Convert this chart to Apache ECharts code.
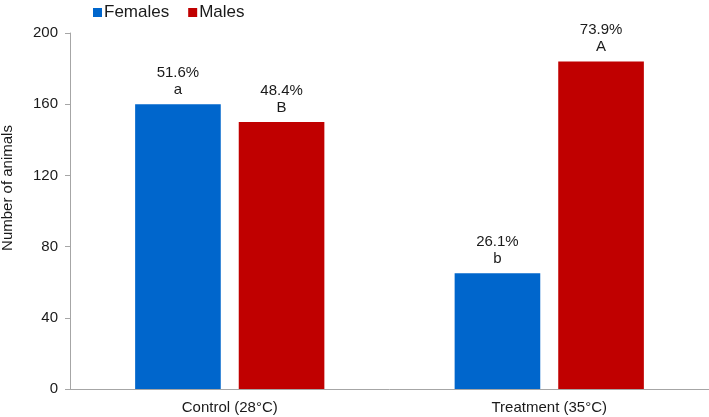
<!DOCTYPE html>
<html><head><meta charset="utf-8">
<script src="https://cdn.jsdelivr.net/npm/echarts@6/dist/echarts.min.js"></script>
<style>html,body{margin:0;padding:0;background:#fff}#c{width:709px;height:417px}</style>
</head><body><div id="c"></div>
<script>
const categories = ['Control (28°C)', 'Treatment (35°C)'];
const females = [160, 65];
const males = [150, 184];
const femaleLabels = ['51.6%\na', '26.1%\nb'];
const maleLabels = ['48.4%\nB', '73.9%\nA'];
const yTicks = [0, 40, 80, 120, 160, 200];
const yAxisTitle = 'Number of animals';

const font = 'Liberation Sans, Arial, sans-serif';
const chart = echarts.init(document.getElementById('c'));
const lbl = (arr) => ({
  show: true, position: 'top', distance: 6, color: '#1a1a1a', fontSize: 15,
  fontFamily: font, lineHeight: 17, align: 'center',
  formatter: p => arr[p.dataIndex]
});
chart.setOption({
  animation: false,
  textStyle: { fontFamily: font },
  legend: {
    left: 88, top: -1, icon: 'rect', itemWidth: 9, itemHeight: 9, itemGap: 19,
    textStyle: { fontSize: 17, color: '#1a1a1a', fontFamily: font, padding: [0, 0, 0, -3] },
    data: ['Females', 'Males']
  },
  grid: { left: 70, right: 0, top: 33, bottom: 28, outerBoundsMode: 'none', containLabel: false },
  graphic: [{
    type: 'text', x: 8, y: 188, rotation: Math.PI / 2,
    style: { text: yAxisTitle, fontSize: 15, fontFamily: font, fill: '#1a1a1a',
      align: 'center', verticalAlign: 'middle' }
  }],
  xAxis: {
    type: 'category', data: categories,
    axisLine: { lineStyle: { color: '#a6a6a6', width: 1 } },
    axisTick: { show: false },
    axisLabel: { fontSize: 15, color: '#1a1a1a', margin: 11, fontFamily: font }
  },
  yAxis: {
    type: 'value', min: 0, max: 200, interval: 40,
    axisLine: { show: true, lineStyle: { color: '#a6a6a6' } },
    axisTick: { show: true, length: 5, lineStyle: { color: '#a6a6a6' } },
    splitLine: { show: false },
    axisLabel: { fontSize: 15, color: '#1a1a1a', margin: 12, fontFamily: font,
      formatter: v => yTicks.includes(v) ? String(v) : '' }
  },
  series: [
    { name: 'Females', type: 'bar', data: females, barWidth: '26.8%', barGap: '21%',
      itemStyle: { color: '#0066CC' }, label: lbl(femaleLabels) },
    { name: 'Males', type: 'bar', data: males, barWidth: '26.8%', barGap: '21%',
      itemStyle: { color: '#C00000' }, label: lbl(maleLabels) }
  ]
});
</script></body></html>
